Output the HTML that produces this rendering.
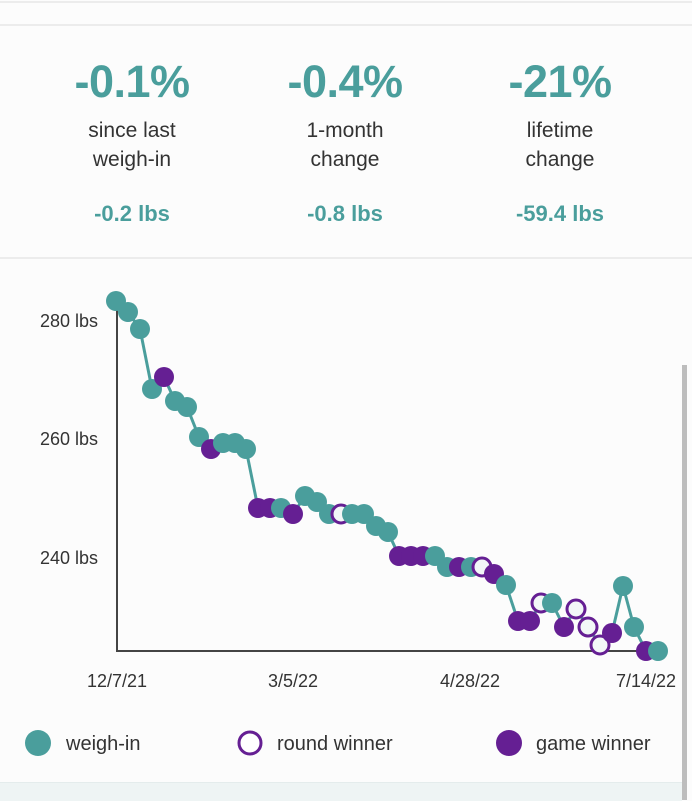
<!DOCTYPE html>
<html><head><style>
body{margin:0;width:692px;height:800px;background:#fcfcfc;font-family:"Liberation Sans",sans-serif;position:relative;overflow:hidden}
.hl{position:absolute;left:0;width:692px;height:2px;background:#ececec}
.col{position:absolute;top:56px;width:220px;text-align:center}
.big{font-size:45px;line-height:52px;color:#4a9e9c;font-weight:bold;letter-spacing:-0.5px}
.lbl{font-size:21px;color:#333;line-height:29px;margin-top:8px}
.sm{font-size:22px;color:#4a9e9c;font-weight:bold;margin-top:27px}
</style></head><body>
<div class="hl" style="top:1px"></div>
<div class="hl" style="top:24px"></div>
<div class="hl" style="top:257px"></div>
<div class="col" style="left:22px"><div class="big">-0.1%</div><div class="lbl">since last<br>weigh-in</div><div class="sm">-0.2 lbs</div></div>
<div class="col" style="left:235px"><div class="big">-0.4%</div><div class="lbl">1-month<br>change</div><div class="sm">-0.8 lbs</div></div>
<div class="col" style="left:450px"><div class="big">-21%</div><div class="lbl">lifetime<br>change</div><div class="sm">-59.4 lbs</div></div>
<div style="position:absolute;left:682px;top:365px;width:5px;height:435px;background:#bdbdbd"></div>
<div style="position:absolute;left:0;top:782px;width:682px;height:18px;background:#eef4f4;border-top:1px solid #e4ecec"></div>
<svg width="692" height="800" style="position:absolute;left:0;top:0" font-family="Liberation Sans, sans-serif">
<g stroke="#444" stroke-width="2"><line x1="117" y1="310" x2="117" y2="651"/><line x1="116" y1="651" x2="662" y2="651"/></g>
<g font-size="18" fill="#333" text-anchor="end"><text x="98" y="327">280 lbs</text><text x="98" y="445">260 lbs</text><text x="98" y="564">240 lbs</text></g>
<g font-size="18" fill="#333" text-anchor="middle"><text x="117" y="687">12/7/21</text><text x="293" y="687">3/5/22</text><text x="470" y="687">4/28/22</text><text x="646" y="687">7/14/22</text></g>
<polyline fill="none" stroke="#4a9e9c" stroke-width="3" points="116,301 128,312 140,329 152,389 164,377 175,401 187,407 199,437 211,449 223,443 235,443 246,449 258,508 270,508 281,508 293,514 305,496 317,502 329,514 341,514 352,514 364,514 376,526 388,532 399,556 411,556 423,556 435,556 447,567 459,567 471,567 482,567 494,574 506,585 518,621 530,621 541,603 552,603 564,627 576,609 588,627 600,645 612,633 623,586 634,627 646,651 658,651"/>
<g fill="#4a9e9c"><circle cx="116" cy="301" r="10"/><circle cx="128" cy="312" r="10"/><circle cx="140" cy="329" r="10"/><circle cx="152" cy="389" r="10"/></g>
<circle cx="164" cy="377" r="10" fill="#651f93"/>
<g fill="#4a9e9c"><circle cx="175" cy="401" r="10"/><circle cx="187" cy="407" r="10"/><circle cx="199" cy="437" r="10"/></g>
<circle cx="211" cy="449" r="10" fill="#651f93"/>
<g fill="#4a9e9c"><circle cx="223" cy="443" r="10"/><circle cx="235" cy="443" r="10"/><circle cx="246" cy="449" r="10"/></g>
<g fill="#651f93"><circle cx="258" cy="508" r="10"/><circle cx="270" cy="508" r="10"/></g>
<circle cx="281" cy="508" r="10" fill="#4a9e9c"/>
<circle cx="293" cy="514" r="10" fill="#651f93"/>
<g fill="#4a9e9c"><circle cx="305" cy="496" r="10"/><circle cx="317" cy="502" r="10"/><circle cx="329" cy="514" r="10"/></g>
<circle cx="341" cy="514" r="9" fill="#f2f7f7" stroke="#651f93" stroke-width="3"/>
<g fill="#4a9e9c"><circle cx="352" cy="514" r="10"/><circle cx="364" cy="514" r="10"/><circle cx="376" cy="526" r="10"/><circle cx="388" cy="532" r="10"/></g>
<g fill="#651f93"><circle cx="399" cy="556" r="10"/><circle cx="411" cy="556" r="10"/><circle cx="423" cy="556" r="10"/></g>
<g fill="#4a9e9c"><circle cx="435" cy="556" r="10"/><circle cx="447" cy="567" r="10"/></g>
<circle cx="459" cy="567" r="10" fill="#651f93"/>
<circle cx="471" cy="567" r="10" fill="#4a9e9c"/>
<circle cx="482" cy="567" r="9" fill="#f2f7f7" stroke="#651f93" stroke-width="3"/>
<circle cx="494" cy="574" r="10" fill="#651f93"/>
<circle cx="506" cy="585" r="10" fill="#4a9e9c"/>
<g fill="#651f93"><circle cx="518" cy="621" r="10"/><circle cx="530" cy="621" r="10"/></g>
<circle cx="541" cy="603" r="9" fill="#f2f7f7" stroke="#651f93" stroke-width="3"/>
<circle cx="552" cy="603" r="10" fill="#4a9e9c"/>
<circle cx="564" cy="627" r="10" fill="#651f93"/>
<circle cx="576" cy="609" r="9" fill="#f2f7f7" stroke="#651f93" stroke-width="3"/>
<circle cx="588" cy="627" r="9" fill="#f2f7f7" stroke="#651f93" stroke-width="3"/>
<circle cx="600" cy="645" r="9" fill="#f2f7f7" stroke="#651f93" stroke-width="3"/>
<circle cx="612" cy="633" r="10" fill="#651f93"/>
<g fill="#4a9e9c"><circle cx="623" cy="586" r="10"/><circle cx="634" cy="627" r="10"/></g>
<circle cx="646" cy="651" r="10" fill="#651f93"/>
<circle cx="658" cy="651" r="10" fill="#4a9e9c"/>
<circle cx="38" cy="743" r="13" fill="#4a9e9c"/>
<circle cx="250" cy="743" r="11" fill="#fff" stroke="#651f93" stroke-width="3"/>
<circle cx="509" cy="743" r="13" fill="#651f93"/>
<g font-size="20" fill="#333"><text x="66" y="750">weigh-in</text><text x="277" y="750">round winner</text><text x="536" y="750">game winner</text></g>
</svg>
</body></html>
